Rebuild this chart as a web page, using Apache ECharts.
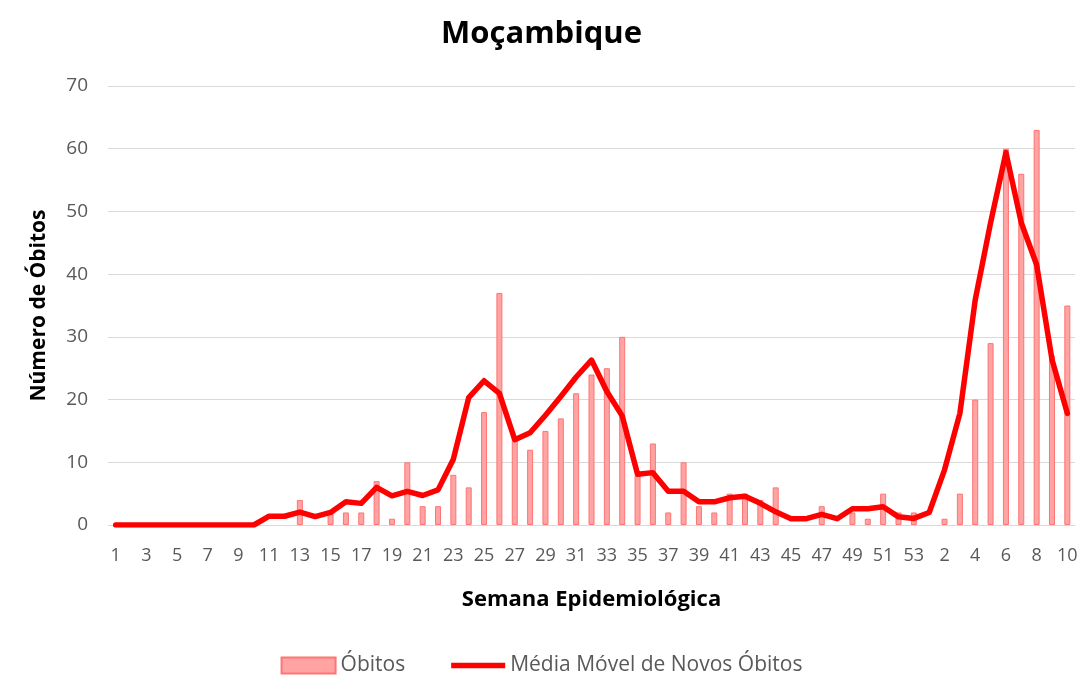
<!DOCTYPE html>
<html>
<head>
<meta charset="utf-8">
<script src="https://cdn.jsdelivr.net/npm/echarts@6/dist/echarts.min.js"></script>
<style>
  html, body { margin: 0; padding: 0; background: #fff; }
  #main { width: 1083px; height: 677px; }
</style>
</head>
<body>
<div id="main"></div>
<script>
// semanas: 1..53 de um ano, depois 1..10 do ano seguinte
var semanas = [
    '1','2','3','4','5','6','7','8','9','10',
    '11','12','13','14','15','16','17','18','19','20',
    '21','22','23','24','25','26','27','28','29','30',
    '31','32','33','34','35','36','37','38','39','40',
    '41','42','43','44','45','46','47','48','49','50',
    '51','52','53',
    '1','2','3','4','5','6','7','8','9','10'
];

var obitos = [
    0, 0, 0, 0, 0, 0, 0, 0, 0, 0,
    0, 0, 4, 0, 2, 2, 2, 7, 1, 10,
    3, 3, 8, 6, 18, 37, 14, 12, 15, 17,
    21, 24, 25, 30, 8, 13, 2, 10, 3, 2,
    5, 5, 4, 6, 0, 0, 3, 0, 2, 1,
    5, 2, 2,
    0, 1, 5, 20, 29, 60, 56, 63, 27, 35
];

var mediaMovel = [
    0, 0, 0, 0, 0, 0, 0, 0, 0, 0,
    1.4, 1.4, 2.05, 1.35, 2.0, 3.7, 3.45, 6.0, 4.65, 5.35,
    4.7, 5.6, 10.5, 20.3, 23, 21, 13.6, 14.7, 17.5, 20.5,
    23.6, 26.3, 21.3, 17.4, 8.1, 8.35, 5.4, 5.4, 3.7, 3.7,
    4.35, 4.6, 3.45, 2.1, 1.0, 1.0, 1.7, 1.0, 2.6, 2.6,
    2.9, 1.3, 1.05,
    2.0, 8.8, 17.8, 35.9, 48.2, 59.4, 48.2, 41.5, 26.4, 17.8
];

var FONT = 'Open Sans';

var chart = echarts.init(document.getElementById('main'));

// semanas sem óbitos: sem barra (evita o contorno no zero)
var barData = obitos.map(function (v) { return v === 0 ? '-' : v; });

var option = {
    animation: false,
    title: {
        text: 'Moçambique',
        left: 'center',
        top: 14,
        textStyle: { fontFamily: FONT, fontSize: 31, fontWeight: 'bold', color: '#000' }
    },
    legend: {
        bottom: -4,
        left: 'center',
        itemWidth: 54,
        itemHeight: 16,
        itemGap: 46,
        textStyle: { fontFamily: FONT, fontSize: 21, color: '#595959' },
        data: [
            { name: 'Óbitos', icon: 'rect' },
            { name: 'Média Móvel de Novos Óbitos', icon: 'path://M0,0 L10,0 L10,1 L0,1 Z' }
        ]
    },
    grid: { left: 108, right: 8, top: 86, bottom: 152 },
    xAxis: {
        type: 'category',
        data: semanas,
        name: 'Semana Epidemiológica',
        nameLocation: 'middle',
        nameGap: 64,
        nameTextStyle: { fontFamily: FONT, fontSize: 22, fontWeight: 'bold', color: '#000' },
        axisLine: { lineStyle: { color: '#d9d9d9', width: 1 } },
        axisTick: { show: false },
        axisLabel: { interval: 1, fontFamily: FONT, fontSize: 18, color: '#595959', margin: 22 }
    },
    yAxis: {
        type: 'value',
        min: 0,
        max: 70,
        interval: 10,
        name: 'Número de Óbitos',
        nameLocation: 'middle',
        nameGap: 58,
        nameTextStyle: { fontFamily: FONT, fontSize: 21, fontWeight: 'bold', color: '#000' },
        axisLine: { show: false },
        axisTick: { show: false },
        axisLabel: { fontFamily: FONT, fontSize: 19, color: '#595959', margin: 20 },
        splitLine: { lineStyle: { color: '#d9d9d9', width: 1 } }
    },
    series: [
        {
            name: 'Óbitos',
            type: 'bar',
            data: barData,
            barWidth: 6,
            itemStyle: { color: '#ffa3a3', borderColor: '#ff7474', borderWidth: 1 }
        },
        {
            name: 'Média Móvel de Novos Óbitos',
            type: 'line',
            data: mediaMovel,
            showSymbol: false,
            symbol: 'none',
            itemStyle: { color: '#ff0000' },
            lineStyle: { color: '#ff0000', width: 5.5, cap: 'round', join: 'round' }
        }
    ]
};

chart.setOption(option);
</script>
</body>
</html>
